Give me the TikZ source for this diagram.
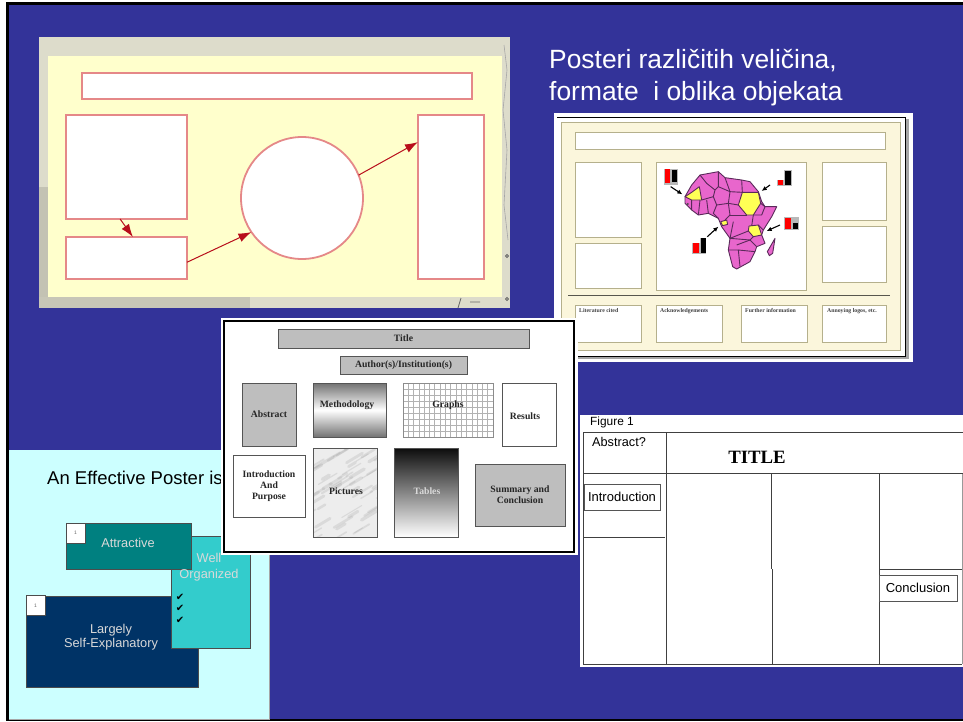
\documentclass[tikz,border=0pt]{standalone}
\usepackage{fontspec}
\usepackage{tikz}
\usetikzlibrary{arrows.meta,shapes}
\newfontfamily\arialfont{Liberation Sans}
\newfontfamily\timesfont{Liberation Serif}
\newfontfamily\symbfont{DejaVu Sans}
\newcommand{\fsize}[1]{\fontsize{#1}{#1}\selectfont}
\newcommand{\inners}{0pt}
\newcommand{\outers}{0pt}
\definecolor{slideblue}{HTML}{333399}
\definecolor{sandgrey}{HTML}{DDDCCB}
\definecolor{paleyellow}{HTML}{FFFFCC}
\definecolor{redline}{HTML}{E58888}
\definecolor{redarrow}{HTML}{D81020}
\definecolor{cream}{HTML}{FBF6DC}
\definecolor{creamline}{HTML}{B5B08C}
\definecolor{africa}{HTML}{E866CC}
\definecolor{africaline}{HTML}{5A2A5A}
\definecolor{mapyellow}{HTML}{FFFF55}
\definecolor{paperline}{HTML}{555555}
\definecolor{papergrey}{HTML}{BEBEBE}
\definecolor{palecyan}{HTML}{CCFFFF}
\definecolor{tealbox}{HTML}{008080}
\definecolor{navybox}{HTML}{003366}
\definecolor{cyanbox}{HTML}{33CCCC}
\tikzset{
    redbox/.style={draw=redline, line width=1.8pt, fill=white, inner sep=\inners, outer sep=\outers},
    creambox/.style={draw=creamline, line width=0.9pt, fill=white, inner sep=\inners, outer sep=\outers},
    redarrowline/.style={draw=redarrow!85!black, line width=1pt, -{Latex[length=13pt,width=9pt]}},
    maparrow/.style={black, line width=1.1pt, -{Latex[length=5pt,width=4.5pt]}},
    headline/.style={anchor=base west, text=white, font=\arialfont\fsize{26.4}, inner sep=\inners},
    paperbox/.style={draw=paperline, line width=1pt, inner sep=\inners, outer sep=\outers, font=\timesfont\bfseries\fsize{9.7}, align=center, text=black!85},
    papertext/.style={font=\timesfont\bfseries\fsize{9.7}, text=black!85, inner sep=\inners},
    footlabel/.style={anchor=west, font=\timesfont\bfseries\fsize{5.8}, text=black!75, inner sep=\inners, text height=4pt, text depth=1pt},
    slidebox/.style={draw=black!70, line width=0.9pt, inner sep=\inners, outer sep=\outers},
    slidetext/.style={font=\arialfont\fsize{12.8}, text=white!85!black, align=center, inner sep=\inners},
    cornerbox/.style={draw=black!70, line width=0.8pt, fill=white, inner sep=\inners, outer sep=\outers, minimum width=19pt, minimum height=20pt, font=\arialfont\fsize{5}, text=black!60},
    figurebox/.style={draw=paperline, line width=0.8pt, fill=white, inner sep=\inners, outer sep=\outers, font=\arialfont\fsize{13}, text=black},
    figurelabel/.style={font=\arialfont\fsize{12.7}, text=black, inner sep=\inners},
    figureline/.style={draw=black!75, line width=0.8pt},
    countryline/.style={draw=africaline, line width=0.9pt, line join=round},
    chartshade/.style={fill=black!28, inner sep=0pt, outer sep=0pt},
}
\begin{document}
\begin{tikzpicture}[x=1pt,y=-1pt]
    \useasboundingbox (0,0) rectangle (963,721);
    \fill[white] (0,0) rectangle (963,721);
    \fill[black] (5.5,2) rectangle (963,721);
    \fill[slideblue] (8.5,4.5) rectangle (963,719);

    % first poster
    \begin{scope}
        \fill[sandgrey] (39,37) rectangle (510,308);
        \fill[black!12!sandgrey] (39,187) rectangle (48,308);
        \fill[black!10!sandgrey] (39,297) rectangle (250,308);
        \draw[black!35, line width=0.6pt] (504,45) -- (507,70) -- (503,110) -- (507,150) -- (504,205) -- (508,240);
        \draw[black!60, line width=0.8pt] (458,308) -- (461,298) (470,302) -- (480,302) (507,256) circle (1.5) (507,299) circle (1.5);
        \fill[paleyellow] (48,56) rectangle (502,297);

        \node[redbox, minimum width=390pt, minimum height=26pt] (titlebar) at (277,86) {};
        \node[redbox, minimum width=121pt, minimum height=104pt] (boxa) at (126.5,167) {};
        \node[redbox, minimum width=121pt, minimum height=42pt] (boxb) at (126.5,258) {};
        \node[redbox, circle, minimum size=122pt] (circ) at (302,198) {};
        \node[redbox, minimum width=66pt, minimum height=164pt] (boxc) at (451,197) {};

        \draw[redarrowline] (boxa.-97) -- (boxb.73);
        \draw[redarrowline] (boxb.-4) -- (circ.214);
        \draw[redarrowline] (circ.22) -- (boxc.121);
    \end{scope}

    \node[headline] (headone) at (549,68) {Posteri različitih veličina,};
    \node[headline] (headtwo) at (549,100) {formate\ \ i oblika objekata};

    % second poster
    \begin{scope}
        \fill[white] (554,113) rectangle (913,362);
        \fill[black!35] (558,119) rectangle (909,359);
        \fill[white] (557,117) rectangle (905,356);
        \draw[black, line width=0.9pt] (557,117) -- (905,117) -- (905,356) -- (557,356);
        \draw[creamline, fill=cream, line width=0.7pt] (561,122) rectangle (900,350);

        \node[creambox, minimum width=310pt, minimum height=17pt] (bartitle) at (730,140.5) {};
        \node[creambox, minimum width=66pt, minimum height=75pt] (leftone) at (608,199.5) {};
        \node[creambox, minimum width=66pt, minimum height=45pt] (lefttwo) at (608,265.5) {};
        \node[creambox, minimum width=150pt, minimum height=128pt] (mapbox) at (731,226) {};
        \node[creambox, minimum width=64pt, minimum height=58pt] (rightone) at (854,191) {};
        \node[creambox, minimum width=64pt, minimum height=56pt] (righttwo) at (854,254) {};
        \draw[black!65!cream, line width=1pt] (568,295) -- (890,295);
        \node[creambox, minimum width=66pt, minimum height=37pt] (footone) at (608,323.5) {};
        \node[creambox, minimum width=66pt, minimum height=37pt] (foottwo) at (689,323.5) {};
        \node[creambox, minimum width=66pt, minimum height=37pt] (footthree) at (774,323.5) {};
        \node[creambox, minimum width=64pt, minimum height=37pt] (footfour) at (854,323.5) {};
        \node[footlabel] (citedlabel) at (579,310.5) {Literature cited};
        \node[footlabel] (ackslabel) at (660,310.5) {Acknowledgements};
        \node[footlabel] (infolabel) at (745,310.5) {Further information};
        \node[footlabel] (logolabel) at (827,310.5) {Annoying logos, etc.};

        % map of the continent
        \begin{scope}[shift={(650,155)},scale=1/3]
            \draw[countryline, fill=africa] (125,90) -- (150,60) -- (205,50) -- (225,68) -- (275,75) -- (300,80) -- (325,110) -- (335,140) -- (345,155) -- (380,155) -- (365,185) -- (340,225) -- (335,240) -- (345,265) -- (320,275) -- (315,290) -- (300,320) -- (260,342) -- (248,335) -- (235,285) -- (240,250) -- (215,215) -- (205,190) -- (175,175) -- (145,180) -- (125,165) -- (105,145) -- (105,125) -- cycle;
            \draw[countryline, fill=africa] (375,250) -- (352,290) -- (358,302) -- (368,295) -- cycle;
            \draw[countryline, fill=mapyellow] (105,125) -- (125,112) -- (148,95) -- (155,135) -- (125,135) -- cycle;
            \draw[countryline, fill=mapyellow] (277,112) -- (325,112) -- (332,145) -- (310,180) -- (290,180) -- (265,150) -- cycle;
            \draw[countryline, fill=mapyellow] (297,213) -- (325,210) -- (335,240) -- (310,245) -- (295,228) -- cycle;
            \draw[countryline, fill=mapyellow] (212,200) -- (230,195) -- (233,208) -- (218,212) -- cycle;
            \draw[countryline] (150,60) -- (170,85) -- (195,105) -- (190,125) -- (155,135);
            \draw[countryline] (205,50) -- (205,95) -- (195,105);
            \draw[countryline] (225,68) -- (240,110) -- (277,112);
            \draw[countryline] (275,75) -- (277,112);
            \draw[countryline] (190,125) -- (200,150) -- (235,145) -- (240,110) -- (205,95);
            \draw[countryline] (235,145) -- (265,150);
            \draw[countryline] (200,150) -- (190,175) -- (205,190);
            \draw[countryline] (235,145) -- (240,180) -- (225,195);
            \draw[countryline] (240,180) -- (290,180);
            \draw[countryline] (125,135) -- (125,165) (150,135) -- (145,180) (170,135) -- (175,175);
            \draw[countryline] (332,145) -- (345,155) -- (335,180) -- (310,180);
            \draw[countryline] (310,180) -- (305,213);
            \draw[countryline] (325,210) -- (340,225);
            \draw[countryline] (250,200) -- (240,250) -- (295,228);
            \draw[countryline] (240,250) -- (300,255) -- (320,275);
            \draw[countryline] (260,270) -- (300,255) -- (310,245);
            \draw[countryline] (235,285) -- (265,285) -- (270,335);
            \draw[countryline] (265,285) -- (315,290);
            \fill[black!70] (113,147) circle (3.5);

            % small bar charts
            \node[chartshade, minimum width=14pt, minimum height=16pt] (chartone) at (63,65) {};
            \fill[red] (45,42) rectangle (60,85);
            \fill[black] (65,45) rectangle (80,82);
            \node[chartshade, minimum width=15pt, minimum height=16pt] (charttwo) at (403,70) {};
            \fill[white] (380,46) rectangle (403,74);
            \fill[red] (385,75) rectangle (400,90);
            \fill[black] (405,48) rectangle (422,90);
            \node[chartshade, minimum width=15pt, minimum height=13pt] (chartthree) at (425,206) {};
            \fill[red] (405,188) rectangle (422,222);
            \fill[black] (428,205) rectangle (445,222);
            \node[chartshade, minimum width=14pt, minimum height=16pt] (chartfour) at (148,273) {};
            \fill[white] (125,250) rectangle (150,264);
            \fill[red] (130,265) rectangle (147,295);
            \fill[black] (152,250) rectangle (168,295);

            \coordinate (mauritania) at (97,118);
            \coordinate (sudan) at (335,108);
            \coordinate (tanzania) at (350,228);
            \coordinate (gabon) at (205,215);
            \coordinate (startone) at (62,95);
            \coordinate (starttwo) at (360,90);
            \coordinate (startthree) at (390,210);
            \coordinate (startfour) at (172,245);
            \draw[maparrow] (startone) -- (mauritania);
            \draw[maparrow] (starttwo) -- (sudan);
            \draw[maparrow] (startthree) -- (tanzania);
            \draw[maparrow] (startfour) -- (gabon);
        \end{scope}
    \end{scope}

    % slide in the lower left corner
    \begin{scope}
        \fill[palecyan] (8.5,450) rectangle (269,719);
        \draw[black!35, line width=0.8pt] (269,450) -- (269,719) -- (8.5,719);
        \node[anchor=west, font=\arialfont\fsize{18.5}, text=black, inner sep=\inners] (effective) at (47,477.5) {An Effective Poster is};

        \node[slidebox, fill=navybox, minimum width=172pt, minimum height=91pt] (largely) at (112,641.5) {};
        \node[slidebox, fill=cyanbox, minimum width=79pt, minimum height=112pt] (organized) at (210.5,592) {};
        \node[slidebox, fill=tealbox, minimum width=125pt, minimum height=46pt] (attractive) at (128.5,546) {};
        \node[cornerbox] (cornerone) at (75.5,533) {1};
        \node[cornerbox] (cornertwo) at (35.5,605.5) {1};
        \node[slidetext] (attractivetext) at (128,543) {Attractive};
        \node[slidetext] (largelytext) at (111,637) {Largely\\[1.5pt]Self-Explanatory};
        \node[slidetext] (welltext) at (209,567) {Well\\[3pt]Organized};
        \foreach \y/\n in {597/one,608/two,620/three}
            \node[font=\symbfont\fsize{10}, text=black, inner sep=\inners] (check\n) at (180,\y) {✔};
    \end{scope}

    % third poster
    \begin{scope}
        \fill[white] (221,318) rectangle (578,555);
        \node[draw=black, line width=1.3pt, fill=white, minimum width=350pt, minimum height=231pt, inner sep=\inners, outer sep=\outers] (paper) at (399,436.5) {};

        \node[paperbox, fill=papergrey, minimum width=251pt, minimum height=19pt] (titlecell) at (403.5,338.5) {Title};
        \node[paperbox, fill=papergrey, minimum width=127pt, minimum height=18pt] (authorcell) at (403.5,365) {Author(s)/Institution(s)};
        \node[paperbox, fill=papergrey, minimum width=54pt, minimum height=63pt] (abstractcell) at (269,414.5) {Abstract};
        \node[paperbox, top color=black!55, bottom color=black!55, middle color=white, minimum width=73pt, minimum height=54pt] (methodcell) at (349.5,410) {};
        \node[paperbox, fill=white, draw=black!45, minimum width=90pt, minimum height=54pt] (graphcell) at (448,410) {};
        \begin{scope}
            \clip (graphcell.south west) rectangle (graphcell.north east);
            \foreach \x in {1,...,16}
                \draw[black!30, line width=0.7pt] (403+5.3*\x,383) -- (403+5.3*\x,437);
            \foreach \y in {1,...,8}
                \draw[black!30, line width=0.7pt] (403,383+6*\y) -- (493,383+6*\y);
        \end{scope}
        \node[paperbox, fill=white, minimum width=54pt, minimum height=63pt] (resultcell) at (529,414.5) {};
        \node[paperbox, fill=white, minimum width=72pt, minimum height=62pt] (introcell) at (269,486) {Introduction\\[1.5pt]And\\[1.5pt]Purpose};
        \node[paperbox, fill=black!7, minimum width=64pt, minimum height=89pt] (picturecell) at (345,492.5) {};
        \begin{scope}
            \clip (picturecell.south west) rectangle (picturecell.north east);
            \pgfmathsetseed{42}
            \foreach \i in {1,...,60} {
                \pgfmathsetmacro{\mx}{305+72*rnd}
                \pgfmathsetmacro{\my}{448+95*rnd}
                \pgfmathsetmacro{\md}{6+14*rnd}
                \pgfmathsetmacro{\mw}{0.8+2.6*rnd}
                \draw[black!40, line width=\mw pt, opacity=0.22, line cap=round] (\mx,\my) -- (\mx+\md,\my-0.6*\md);
            }
        \end{scope}
        \node[paperbox, top color=black!95, bottom color=white, minimum width=64pt, minimum height=89pt] (tablecell) at (426,492.5) {};
        \node[paperbox, fill=papergrey, minimum width=90pt, minimum height=62pt] (summarycell) at (520,495) {Summary and\\[1.5pt]Conclusion};
        \draw[black!45, line width=1pt] (graphcell.south west) rectangle (graphcell.north east);
        \draw[paperline, line width=1pt] (picturecell.south west) rectangle (picturecell.north east);

        \node[papertext] (methodtext) at (347,405) {Methodology};
        \node[papertext] (graphtext) at (448,405) {Graphs};
        \node[papertext] (resulttext) at (525,416) {Results};
        \node[papertext] (picturetext) at (346,491) {Pictures};
        \node[papertext, text=white!85!black] (tabletext) at (427,491) {Tables};
    \end{scope}

    % outline of the last poster
    \begin{scope}
        \fill[white] (580,415) rectangle (963,667);
        \draw[figureline] (583,432) -- (963,432);
        \draw[figureline] (583,432) -- (583,664) -- (962,664);
        \draw[black!40, line width=1pt] (962,473) -- (962,664);
        \draw[figureline] (583,473) -- (963,473);
        \draw[figureline] (666,432) -- (666,664);
        \draw[figureline] (771.5,473) -- (771.5,569) (772.5,569) -- (772.5,664);
        \draw[figureline] (879,473) -- (879,664);
        \draw[figureline] (584,537) -- (665,537);
        \draw[figureline] (879,569) -- (962,569);

        \node[figurelabel, anchor=west, font=\arialfont\fsize{11.9}] (figlabel) at (590,422.5) {Figure 1};
        \node[figurelabel, anchor=west] (abstractlabel) at (592,442) {Abstract?};
        \node[anchor=center, font=\timesfont\bfseries\fsize{18.8}, text=black, inner sep=\inners] (bigtitle) at (757,457) {TITLE};
        \node[figurebox, minimum width=76pt, minimum height=26pt] (introbox) at (622,497) {Introduction};
        \node[figurebox, minimum width=78pt, minimum height=26pt] (conclbox) at (918,588) {Conclusion};
    \end{scope}
\end{tikzpicture}
\end{document}
